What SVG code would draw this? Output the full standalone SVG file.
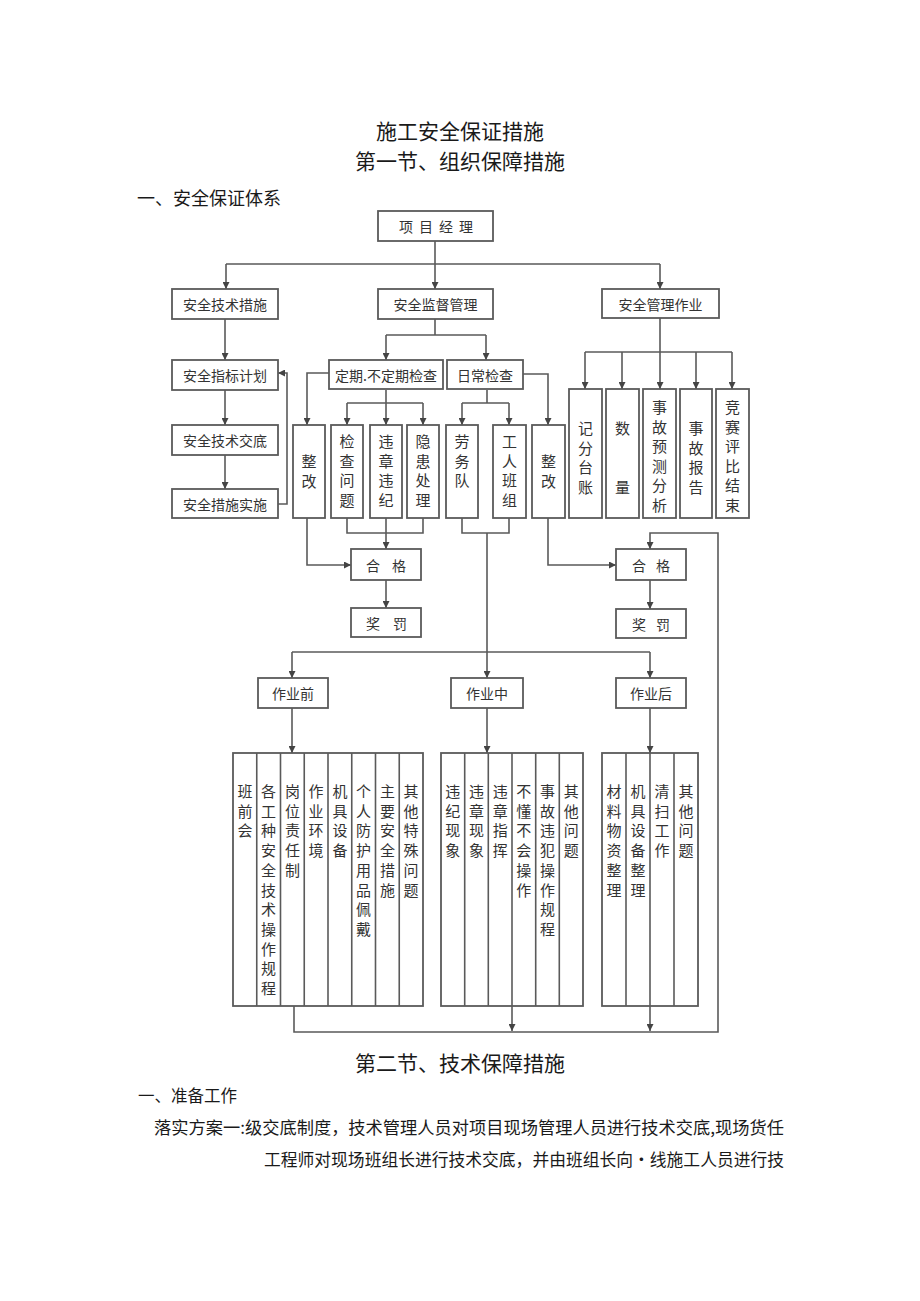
<svg xmlns="http://www.w3.org/2000/svg" width="920" height="1301" viewBox="0 0 920 1301">
<style>
.bg{fill:#fff}
.b{fill:#fff;stroke:#5a5a5a;stroke-width:1.8}
.t{font-family:"Noto Sans CJK SC","Noto Sans",sans-serif;font-size:14px;fill:#333;text-anchor:middle;dominant-baseline:central}
.v{font-family:"Noto Sans CJK SC","Noto Sans",sans-serif;font-size:15px;fill:#333;text-anchor:middle;dominant-baseline:central}
.h{font-family:"Noto Sans CJK SC","Noto Sans",sans-serif;fill:#1a1a1a;dominant-baseline:central}
.c{fill:none;stroke:#5a5a5a;stroke-width:1.6}
.ca{fill:none;stroke:#5a5a5a;stroke-width:1.6;marker-end:url(#a)}
</style>
<defs>
<marker id="a" markerWidth="7" markerHeight="7" refX="7" refY="3.5" orient="auto" markerUnits="userSpaceOnUse"><path d="M0,0 L7,3.5 L0,7 z" fill="#444"/></marker>
</defs>
<rect class="bg" x="0" y="0" width="920" height="1301"/>

<g id="headings">
<text class="h" x="460" y="130" font-size="21" text-anchor="middle">施工安全保证措施</text>
<text class="h" x="460" y="160" font-size="21" text-anchor="middle">第一节、组织保障措施</text>
<text class="h" x="137" y="197" font-size="18">一、安全保证体系</text>
</g>

<g id="connectors">
<path class="c" d="M435,241 V264 M226,264 H660"/>
<path class="ca" d="M226,264 V289"/>
<path class="ca" d="M435,264 V289"/>
<path class="ca" d="M660,264 V289"/>
<path class="ca" d="M225,319 V360"/>
<path class="ca" d="M225,390 V425"/>
<path class="ca" d="M225,455 V489"/>
<path class="ca" d="M278,504 H287 V373 H278"/>
<path class="c" d="M435,319 V335 M386,335 H486"/>
<path class="ca" d="M386,335 V360"/>
<path class="ca" d="M486,335 V360"/>
<path class="ca" d="M329,373 H307 V425"/>
<path class="c" d="M386,390 V403 M347,403 H423"/>
<path class="ca" d="M347,403 V425"/>
<path class="ca" d="M386,403 V425"/>
<path class="ca" d="M423,403 V425"/>
<path class="c" d="M487,390 V403 M462,403 H509"/>
<path class="ca" d="M462,403 V425"/>
<path class="ca" d="M509,403 V425"/>
<path class="ca" d="M523,374 H548 V425"/>
<path class="c" d="M585,352 H732"/>
<path class="ca" d="M660,318 V389"/>
<path class="ca" d="M585,352 V389"/>
<path class="ca" d="M622,352 V389"/>
<path class="ca" d="M696,352 V389"/>
<path class="ca" d="M732,352 V389"/>
<path class="ca" d="M307,518 V565 H351"/>
<path class="c" d="M347,518 V533 H423 V518"/>
<path class="ca" d="M386,518 V549"/>
<path class="c" d="M462,518 V533 H509 V518"/>
<path class="ca" d="M487,533 V678"/>
<path class="ca" d="M548,518 V565 H616"/>
<path class="ca" d="M386,580 V608"/>
<path class="ca" d="M650,580 V609"/>
<path class="c" d="M292,652 H650"/>
<path class="ca" d="M292,652 V678"/>
<path class="ca" d="M650,652 V678"/>
<path class="ca" d="M292,708 V753"/>
<path class="ca" d="M487,708 V753"/>
<path class="ca" d="M650,708 V753"/>
<path class="ca" d="M294,1006 V1032 H718 V533 H650 V549"/>
<path class="ca" d="M512,1006 V1031"/>
<path class="ca" d="M650,1006 V1031"/>
</g>

<g id="n-xmjl"><rect class="b" x="378" y="211" width="115" height="30"/>
<text class="t"><tspan x="406" y="226">项</tspan><tspan x="426" y="226">目</tspan><tspan x="446" y="226">经</tspan><tspan x="466" y="226">理</tspan></text></g>
<g id="n-aqjscs"><rect class="b" x="172" y="289" width="106" height="30"/><text class="t" x="225" y="304">安全技术措施</text></g>
<g id="n-aqjdgl"><rect class="b" x="378" y="289" width="115" height="30"/><text class="t" x="435.5" y="304">安全监督管理</text></g>
<g id="n-aqglzy"><rect class="b" x="602" y="289" width="117" height="29"/><text class="t" x="660.5" y="303.5">安全管理作业</text></g>
<g id="n-aqzbjh"><rect class="b" x="172" y="360" width="106" height="30"/><text class="t" x="225" y="375">安全指标计划</text></g>
<g id="n-aqjsjd"><rect class="b" x="172" y="425" width="106" height="30"/><text class="t" x="225" y="440">安全技术交底</text></g>
<g id="n-aqcsss"><rect class="b" x="172" y="489" width="106" height="29"/><text class="t" x="225" y="503.5">安全措施实施</text></g>
<g id="n-dqjc"><rect class="b" x="329" y="360" width="114" height="29"/><text class="t" x="386" y="374.5">定期.不定期检查</text></g>
<g id="n-rcjc"><rect class="b" x="447" y="360" width="76" height="29"/><text class="t" x="485" y="374.5">日常检查</text></g>

<g id="n-zg1"><rect class="b" x="293" y="425" width="32" height="93"/>
<text class="v"><tspan x="309" y="460">整</tspan><tspan x="309" y="480">改</tspan></text></g>
<g id="n-jcwt"><rect class="b" x="331" y="425" width="32" height="93"/>
<text class="v"><tspan x="347" y="440">检</tspan><tspan x="347" y="459.5">查</tspan><tspan x="347" y="479">问</tspan><tspan x="347" y="498.5">题</tspan></text></g>
<g id="n-wzwj"><rect class="b" x="370" y="425" width="32" height="93"/>
<text class="v"><tspan x="386" y="440">违</tspan><tspan x="386" y="459.5">章</tspan><tspan x="386" y="479">违</tspan><tspan x="386" y="498.5">纪</tspan></text></g>
<g id="n-yhcl"><rect class="b" x="407" y="425" width="32" height="93"/>
<text class="v"><tspan x="423" y="440">隐</tspan><tspan x="423" y="459.5">患</tspan><tspan x="423" y="479">处</tspan><tspan x="423" y="498.5">理</tspan></text></g>
<g id="n-lwd"><rect class="b" x="446" y="425" width="32" height="93"/>
<text class="v"><tspan x="462" y="440">劳</tspan><tspan x="462" y="459.5">务</tspan><tspan x="462" y="479">队</tspan></text></g>
<g id="n-grbz"><rect class="b" x="493" y="425" width="33" height="93"/>
<text class="v"><tspan x="509.5" y="440">工</tspan><tspan x="509.5" y="459.5">人</tspan><tspan x="509.5" y="479">班</tspan><tspan x="509.5" y="498.5">组</tspan></text></g>
<g id="n-zg2"><rect class="b" x="532" y="425" width="33" height="93"/>
<text class="v"><tspan x="548.5" y="460">整</tspan><tspan x="548.5" y="480">改</tspan></text></g>

<g id="n-jftz"><rect class="b" x="569" y="389" width="33" height="129"/>
<text class="v"><tspan x="585.5" y="427">记</tspan><tspan x="585.5" y="446.5">分</tspan><tspan x="585.5" y="466">台</tspan><tspan x="585.5" y="485.5">账</tspan></text></g>
<g id="n-sl"><rect class="b" x="606" y="389" width="33" height="129"/>
<text class="v"><tspan x="622.5" y="427">数</tspan><tspan x="622.5" y="485.5">量</tspan></text></g>
<g id="n-sgyc"><rect class="b" x="643" y="389" width="33" height="129"/>
<text class="v"><tspan x="659.5" y="406">事</tspan><tspan x="659.5" y="425.5">故</tspan><tspan x="659.5" y="445">预</tspan><tspan x="659.5" y="464.5">测</tspan><tspan x="659.5" y="484">分</tspan><tspan x="659.5" y="503.5">析</tspan></text></g>
<g id="n-sgbg"><rect class="b" x="680" y="389" width="32" height="129"/>
<text class="v"><tspan x="696" y="427">事</tspan><tspan x="696" y="446.5">故</tspan><tspan x="696" y="466">报</tspan><tspan x="696" y="485.5">告</tspan></text></g>
<g id="n-jspb"><rect class="b" x="716" y="389" width="33" height="129"/>
<text class="v"><tspan x="732.5" y="406">竞</tspan><tspan x="732.5" y="425.5">赛</tspan><tspan x="732.5" y="445">评</tspan><tspan x="732.5" y="464.5">比</tspan><tspan x="732.5" y="484">结</tspan><tspan x="732.5" y="503.5">束</tspan></text></g>

<g id="n-hg1"><rect class="b" x="351" y="549" width="70" height="31"/>
<text class="t"><tspan x="373" y="564.5">合</tspan><tspan x="399" y="564.5">格</tspan></text></g>
<g id="n-jf1"><rect class="b" x="351" y="608" width="70" height="29"/>
<text class="t"><tspan x="373" y="622.5">奖</tspan><tspan x="400" y="622.5">罚</tspan></text></g>
<g id="n-hg2"><rect class="b" x="616" y="549" width="70" height="31"/>
<text class="t"><tspan x="639" y="564.5">合</tspan><tspan x="663" y="564.5">格</tspan></text></g>
<g id="n-jf2"><rect class="b" x="616" y="609" width="70" height="29"/>
<text class="t"><tspan x="639" y="623.5">奖</tspan><tspan x="663" y="623.5">罚</tspan></text></g>

<g id="n-zyq"><rect class="b" x="258" y="678" width="70" height="30"/><text class="t" x="293" y="693">作业前</text></g>
<g id="n-zyz"><rect class="b" x="451" y="678" width="72" height="30"/><text class="t" x="487" y="693">作业中</text></g>
<g id="n-zyh"><rect class="b" x="616" y="678" width="70" height="30"/><text class="t" x="651" y="693">作业后</text></g>

<g id="n-g1">
<rect class="b" x="233" y="753" width="190" height="253"/>
<path class="c" d="M256.75,753 V1006 M280.5,753 V1006 M304.25,753 V1006 M328,753 V1006 M351.75,753 V1006 M375.5,753 V1006 M399.25,753 V1006"/>
<text class="v"><tspan x="244.9" y="790">班</tspan><tspan x="244.9" y="809.7">前</tspan><tspan x="244.9" y="829.4">会</tspan></text>
<text class="v"><tspan x="268.6" y="790">各</tspan><tspan x="268.6" y="809.7">工</tspan><tspan x="268.6" y="829.4">种</tspan><tspan x="268.6" y="849.1">安</tspan><tspan x="268.6" y="868.8">全</tspan><tspan x="268.6" y="888.5">技</tspan><tspan x="268.6" y="908.2">术</tspan><tspan x="268.6" y="927.9">操</tspan><tspan x="268.6" y="947.6">作</tspan><tspan x="268.6" y="967.3">规</tspan><tspan x="268.6" y="987">程</tspan></text>
<text class="v"><tspan x="292.4" y="790">岗</tspan><tspan x="292.4" y="809.7">位</tspan><tspan x="292.4" y="829.4">责</tspan><tspan x="292.4" y="849.1">任</tspan><tspan x="292.4" y="868.8">制</tspan></text>
<text class="v"><tspan x="316.1" y="790">作</tspan><tspan x="316.1" y="809.7">业</tspan><tspan x="316.1" y="829.4">环</tspan><tspan x="316.1" y="849.1">境</tspan></text>
<text class="v"><tspan x="339.9" y="790">机</tspan><tspan x="339.9" y="809.7">具</tspan><tspan x="339.9" y="829.4">设</tspan><tspan x="339.9" y="849.1">备</tspan></text>
<text class="v"><tspan x="363.6" y="790">个</tspan><tspan x="363.6" y="809.7">人</tspan><tspan x="363.6" y="829.4">防</tspan><tspan x="363.6" y="849.1">护</tspan><tspan x="363.6" y="868.8">用</tspan><tspan x="363.6" y="888.5">品</tspan><tspan x="363.6" y="908.2">佩</tspan><tspan x="363.6" y="927.9">戴</tspan></text>
<text class="v"><tspan x="387.4" y="790">主</tspan><tspan x="387.4" y="809.7">要</tspan><tspan x="387.4" y="829.4">安</tspan><tspan x="387.4" y="849.1">全</tspan><tspan x="387.4" y="868.8">措</tspan><tspan x="387.4" y="888.5">施</tspan></text>
<text class="v"><tspan x="411.1" y="790">其</tspan><tspan x="411.1" y="809.7">他</tspan><tspan x="411.1" y="829.4">特</tspan><tspan x="411.1" y="849.1">殊</tspan><tspan x="411.1" y="868.8">问</tspan><tspan x="411.1" y="888.5">题</tspan></text>
</g>

<g id="n-g2">
<rect class="b" x="441" y="753" width="142" height="253"/>
<path class="c" d="M464.7,753 V1006 M488.3,753 V1006 M512,753 V1006 M535.7,753 V1006 M559.3,753 V1006"/>
<text class="v"><tspan x="452.8" y="790">违</tspan><tspan x="452.8" y="809.7">纪</tspan><tspan x="452.8" y="829.4">现</tspan><tspan x="452.8" y="849.1">象</tspan></text>
<text class="v"><tspan x="476.5" y="790">违</tspan><tspan x="476.5" y="809.7">章</tspan><tspan x="476.5" y="829.4">现</tspan><tspan x="476.5" y="849.1">象</tspan></text>
<text class="v"><tspan x="500.2" y="790">违</tspan><tspan x="500.2" y="809.7">章</tspan><tspan x="500.2" y="829.4">指</tspan><tspan x="500.2" y="849.1">挥</tspan></text>
<text class="v"><tspan x="523.8" y="790">不</tspan><tspan x="523.8" y="809.7">懂</tspan><tspan x="523.8" y="829.4">不</tspan><tspan x="523.8" y="849.1">会</tspan><tspan x="523.8" y="868.8">操</tspan><tspan x="523.8" y="888.5">作</tspan></text>
<text class="v"><tspan x="547.5" y="790">事</tspan><tspan x="547.5" y="809.7">故</tspan><tspan x="547.5" y="829.4">违</tspan><tspan x="547.5" y="849.1">犯</tspan><tspan x="547.5" y="868.8">操</tspan><tspan x="547.5" y="888.5">作</tspan><tspan x="547.5" y="908.2">规</tspan><tspan x="547.5" y="927.9">程</tspan></text>
<text class="v"><tspan x="571.2" y="790">其</tspan><tspan x="571.2" y="809.7">他</tspan><tspan x="571.2" y="829.4">问</tspan><tspan x="571.2" y="849.1">题</tspan></text>
</g>

<g id="n-g3">
<rect class="b" x="602" y="753" width="96" height="253"/>
<path class="c" d="M626,753 V1006 M650,753 V1006 M674,753 V1006"/>
<text class="v"><tspan x="614" y="790">材</tspan><tspan x="614" y="809.7">料</tspan><tspan x="614" y="829.4">物</tspan><tspan x="614" y="849.1">资</tspan><tspan x="614" y="868.8">整</tspan><tspan x="614" y="888.5">理</tspan></text>
<text class="v"><tspan x="638" y="790">机</tspan><tspan x="638" y="809.7">具</tspan><tspan x="638" y="829.4">设</tspan><tspan x="638" y="849.1">备</tspan><tspan x="638" y="868.8">整</tspan><tspan x="638" y="888.5">理</tspan></text>
<text class="v"><tspan x="662" y="790">清</tspan><tspan x="662" y="809.7">扫</tspan><tspan x="662" y="829.4">工</tspan><tspan x="662" y="849.1">作</tspan></text>
<text class="v"><tspan x="686" y="790">其</tspan><tspan x="686" y="809.7">他</tspan><tspan x="686" y="829.4">问</tspan><tspan x="686" y="849.1">题</tspan></text>
</g>

<g id="section2">
<text class="h" x="460" y="1062" font-size="21" text-anchor="middle">第二节、技术保障措施</text>
<text class="h" x="138" y="1095" font-size="16.5">一、准备工作</text>
<text class="h" x="154" y="1126" font-size="17" textLength="630" lengthAdjust="spacingAndGlyphs">落实方案一:级交底制度，技术管理人员对项目现场管理人员进行技术交底,现场货任</text>
<text class="h" x="264" y="1158" font-size="17" textLength="520" lengthAdjust="spacingAndGlyphs">工程师对现场班组长进行技术交底，并由班组长向•线施工人员进行技</text>
</g>
</svg>
